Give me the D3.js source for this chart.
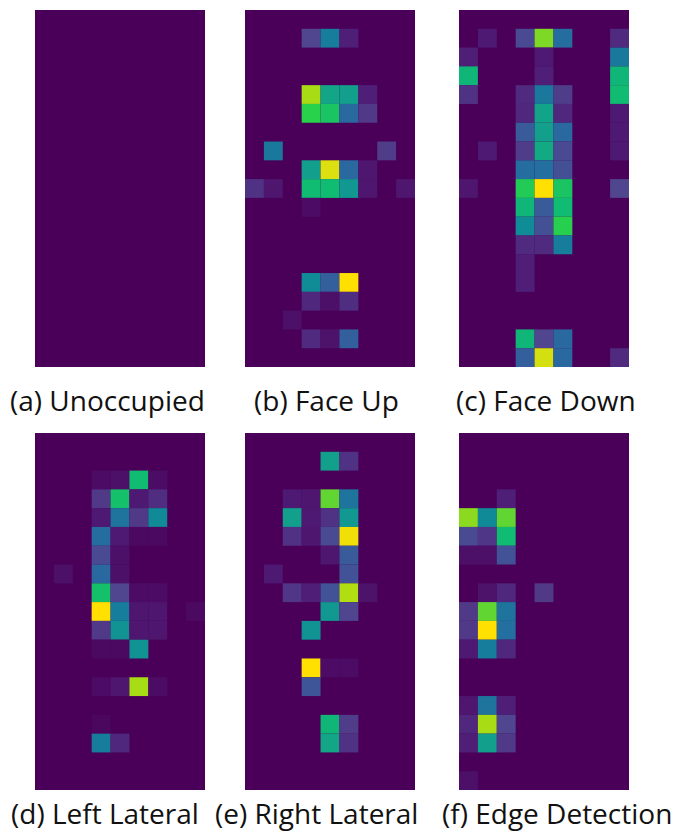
<!DOCTYPE html>
<html>
<head>
<meta charset="utf-8">
<script src="https://cdn.jsdelivr.net/npm/d3@7"></script>
<style>
html, body { margin: 0; padding: 0; background: #fff; }
svg { display: block; }
text { font-family: "Open Sans", sans-serif; font-size: 28px; fill: #111; }
.panel { filter: blur(.6px); }
</style>
</head>
<body>
<div id="chart"></div>
<script>
// sensor cells as [row, column, level], anything not listed is 0
var unoccupied = []
var faceUp = [
	[1,3,.2],[1,4,.42],[1,5,.1],
	[4,3,.87],[4,4,.58],[4,5,.55],[4,6,.1],
	[5,3,.78],[5,4,.72],[5,5,.33],[5,6,.17],
	[7,1,.4],[7,7,.18],
	[8,3,.55],[8,4,.93],[8,5,.33],[8,6,.07],
	[9,0,.15],[9,1,.07],[9,3,.68],[9,4,.68],[9,5,.52],[9,6,.07],[9,8,.07],
	[10,3,.04],
	[14,3,.48],[14,4,.3],[14,5,1],
	[15,3,.12],[15,4,.05],[15,5,.14],
	[16,2,.05],
	[17,3,.13],[17,4,.06],[17,5,.3]
]
var faceDown = [
	[1,1,.08],[1,3,.22],[1,4,.84],[1,5,.35],[1,8,.13],
	[2,0,.1],[2,4,.08],[2,8,.4],
	[3,0,.65],[3,4,.1],[3,8,.65],
	[4,0,.15],[4,3,.13],[4,4,.4],[4,5,.18],[4,8,.68],
	[5,3,.12],[5,4,.57],[5,5,.12],[5,8,.08],
	[6,3,.28],[6,4,.55],[6,5,.33],[6,8,.08],
	[7,1,.08],[7,3,.18],[7,4,.6],[7,5,.22],[7,8,.08],
	[8,3,.35],[8,4,.36],[8,5,.24],
	[9,0,.07],[9,3,.75],[9,4,1],[9,5,.72],[9,8,.2],
	[10,3,.65],[10,4,.28],[10,5,.68],
	[11,3,.48],[11,4,.24],[11,5,.77],
	[12,3,.13],[12,4,.13],[12,5,.42],
	[13,3,.1],
	[14,3,.1],
	[17,3,.65],[17,4,.2],[17,5,.33],
	[18,3,.3],[18,4,.92],[18,5,.33],[18,8,.13]
]
var leftLateral = [
	[2,3,.04],[2,4,.05],[2,5,.68],[2,6,.04],
	[3,3,.17],[3,4,.7],[3,5,.08],[3,6,.14],
	[4,3,.08],[4,4,.38],[4,5,.17],[4,6,.47],
	[5,3,.35],[5,4,.08],[5,5,.03],[5,6,.03],
	[6,3,.22],[6,4,.05],
	[7,1,.05],[7,3,.33],[7,4,.05],
	[8,3,.7],[8,4,.2],[8,5,.04],[8,6,.04],
	[9,3,1],[9,4,.42],[9,5,.07],[9,6,.07],[9,8,.03],
	[10,3,.17],[10,4,.5],[10,5,.07],[10,6,.07],
	[11,3,.03],[11,4,.03],[11,5,.5],
	[13,3,.04],[13,4,.07],[13,5,.87],[13,6,.04],
	[15,3,.02],
	[16,3,.42],[16,4,.12]
]
var rightLateral = [
	[1,4,.55],[1,5,.15],
	[3,2,.08],[3,3,.07],[3,4,.82],[3,5,.38],
	[4,2,.55],[4,3,.08],[4,4,.15],[4,5,.52],
	[5,2,.15],[5,3,.07],[5,4,.22],[5,5,.97],
	[6,4,.07],[6,5,.28],
	[7,1,.08],[7,5,.25],
	[8,2,.16],[8,3,.1],[8,4,.25],[8,5,.88],[8,6,.06],
	[9,4,.52],[9,5,.2],
	[10,3,.5],
	[12,3,1],[12,4,.04],[12,5,.04],
	[13,3,.26],
	[15,4,.65],[15,5,.18],
	[16,4,.58],[16,5,.15]
]
var edgeDetection = [
	[3,2,.1],
	[4,0,.85],[4,1,.47],[4,2,.82],
	[5,0,.22],[5,1,.16],[5,2,.68],
	[6,0,.05],[6,1,.05],[6,2,.25],
	[8,1,.06],[8,2,.12],[8,4,.17],
	[9,0,.17],[9,1,.82],[9,2,.38],
	[10,0,.17],[10,1,1],[10,2,.36],
	[11,0,.08],[11,1,.42],[11,2,.12],
	[14,0,.07],[14,1,.38],[14,2,.1],
	[15,0,.12],[15,1,.87],[15,2,.2],
	[16,0,.1],[16,1,.55],[16,2,.17],
	[18,0,.05]
]
var titles = ["(a) Unoccupied","(b) Face Up","(c) Face Down","(d) Left Lateral","(e) Right Lateral","(f) Edge Detection"]
var panelData = [unoccupied,faceUp,faceDown,leftLateral,rightLateral,edgeDetection]
var rowCount = 19, colCount = 9

// colour ramp, harder than plain viridis
var rampLevels = [0,.1,.2,.33,.45,.55,.68,.78,.87,.93,1]
var rampColors = ["#4a0058","#4f1f78","#50458f","#2a68a0","#0f849a","#12a08c","#10bb72","#28d24a","#a8dc14","#dde010","#ffe000"]

var chart = {width:676, height:834, panelW:170, panelH:357}
var panelX = [35,245,459], panelY = [10,433]
var labelX = [10,254,456,11,215,442], labelY = [411,824]

var svg = d3.select("#chart").append("svg")
	.attr("width",chart.width)
	.attr("height",chart.height)

var xScale = d3.scaleBand().domain(d3.range(colCount)).range([0,chart.panelW])
var yScale = d3.scaleBand().domain(d3.range(rowCount)).range([0,chart.panelH])
var fill = d3.scaleLinear()
	.domain(rampLevels)
	.range(rampColors)
	.interpolate(d3.interpolateRgb)

var panels = svg.selectAll("g.panel")
	.data(panelData)
	.enter()
	.append("g")
	.attr("class","panel")
	.attr("transform",function(d,i){
		return "translate("+panelX[i%3]+","+panelY[Math.floor(i/3)]+")"
	})

panels.append("rect")
	.attr("width",chart.panelW)
	.attr("height",chart.panelH)
	.attr("fill",fill(0))

panels.selectAll("rect.cell")
	.data(function(d){ return d })
	.enter()
	.append("rect")
	.attr("class","cell")
	.attr("x",function(d){ return xScale(d[1]) })
	.attr("y",function(d){ return yScale(d[0]) })
	.attr("width",xScale.bandwidth())
	.attr("height",yScale.bandwidth())
	.attr("fill",function(d){ return fill(d[2]) })

svg.selectAll("text.title")
	.data(titles)
	.enter()
	.append("text")
	.attr("class","title")
	.attr("x",function(d,i){ return labelX[i] })
	.attr("y",function(d,i){ return labelY[Math.floor(i/3)] })
	.text(function(d){ return d })
</script>
</body>
</html>
